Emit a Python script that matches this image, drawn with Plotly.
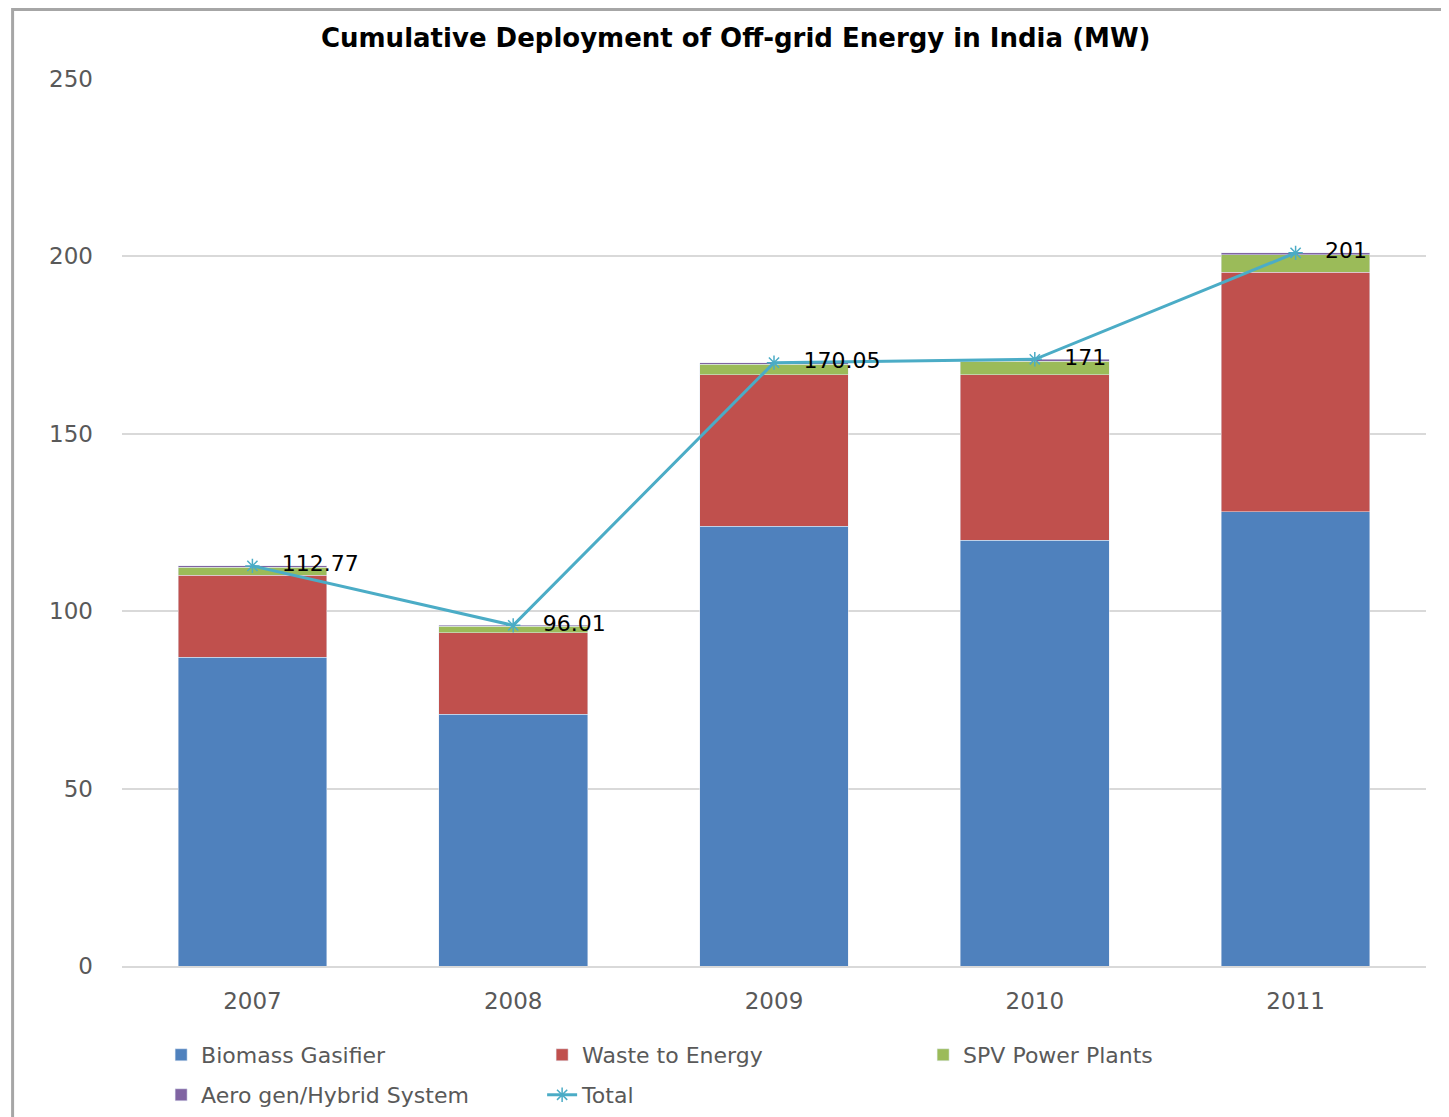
import plotly.graph_objects as go

years = ["2007", "2008", "2009", "2010", "2011"]
biomass = [87.0, 71.0, 124.0, 120.0, 128.0]
waste = [23.2, 22.9, 42.6, 46.6, 67.6]
spv = [2.2, 1.8, 3.0, 3.8, 4.8]
aero = [0.37, 0.31, 0.45, 0.6, 0.6]
total = [112.77, 96.01, 170.05, 171, 201]
total_labels = ["112.77", "96.01", "170.05", "171", "201"]
y_ticks = [0, 50, 100, 150, 200, 250]

FONT = "DejaVu Sans"
W, H = 1441, 1109
fig = go.Figure()
fig.add_trace(go.Bar(x=years, y=biomass, name="Biomass Gasifier", marker_color="#4f81bd", legend="legend"))
fig.add_trace(go.Bar(x=years, y=waste, name="Waste to Energy", marker_color="#c0504d", legend="legend"))
fig.add_trace(go.Bar(x=years, y=spv, name="SPV Power Plants", marker_color="#9bbb59", legend="legend"))
fig.add_trace(go.Bar(x=years, y=aero, name="Aero gen/Hybrid System", marker_color="#8064a2", legend="legend2"))
fig.add_trace(go.Scatter(
    x=years, y=total, name="Total", mode="lines+markers+text", legend="legend2",
    line=dict(color="#4bacc6", width=3),
    marker=dict(symbol="asterisk-open", size=12, line=dict(color="#4bacc6", width=1.5)),
    text=["   " + t for t in total_labels], textposition="middle right",
    textfont=dict(family=FONT, size=22, color="#000000"),
))

legend_common = dict(orientation="h", xanchor="left", yanchor="middle",
                     entrywidth=336, entrywidthmode="pixels", traceorder="normal",
                     font=dict(size=22, color="#595959"), bgcolor="rgba(0,0,0,0)")

fig.update_layout(
    barmode="stack", bargap=0.43,
    width=W, height=H,
    margin=dict(l=113.5, r=22.5, t=71, b=151, autoexpand=False),
    paper_bgcolor="white", plot_bgcolor="white",
    font=dict(family=FONT, size=22, color="#595959"),
    title=dict(text="<b>Cumulative Deployment of Off-grid Energy in India (MW)</b>",
               x=0.505, xanchor="center", y=1 - 30 / H, yanchor="middle",
               font=dict(family=FONT, size=26, color="#000000")),
    yaxis=dict(range=[0, 250], tickvals=y_ticks, showgrid=True, gridcolor="#d9d9d9",
               gridwidth=1.5, zeroline=False, ticks="", ticklabelstandoff=28,
               tickfont=dict(size=23, color="#595959")),
    xaxis=dict(showline=True, linecolor="#d9d9d9", linewidth=1.5, ticks="",
               ticklabelstandoff=14, tickfont=dict(size=23, color="#595959")),
    legend=dict(x=0.030, y=-0.1003, **legend_common),
    legend2=dict(x=0.030, y=-0.1454, **legend_common),
    showlegend=True,
    shapes=[dict(type="rect", xref="paper", yref="paper", x0=-0.0839, x1=1.2, y0=-0.3, y1=1.0784,
                 line=dict(color="#a6a6a6", width=3), fillcolor="rgba(0,0,0,0)", layer="below")],
)

fig.write_html("out.html")
